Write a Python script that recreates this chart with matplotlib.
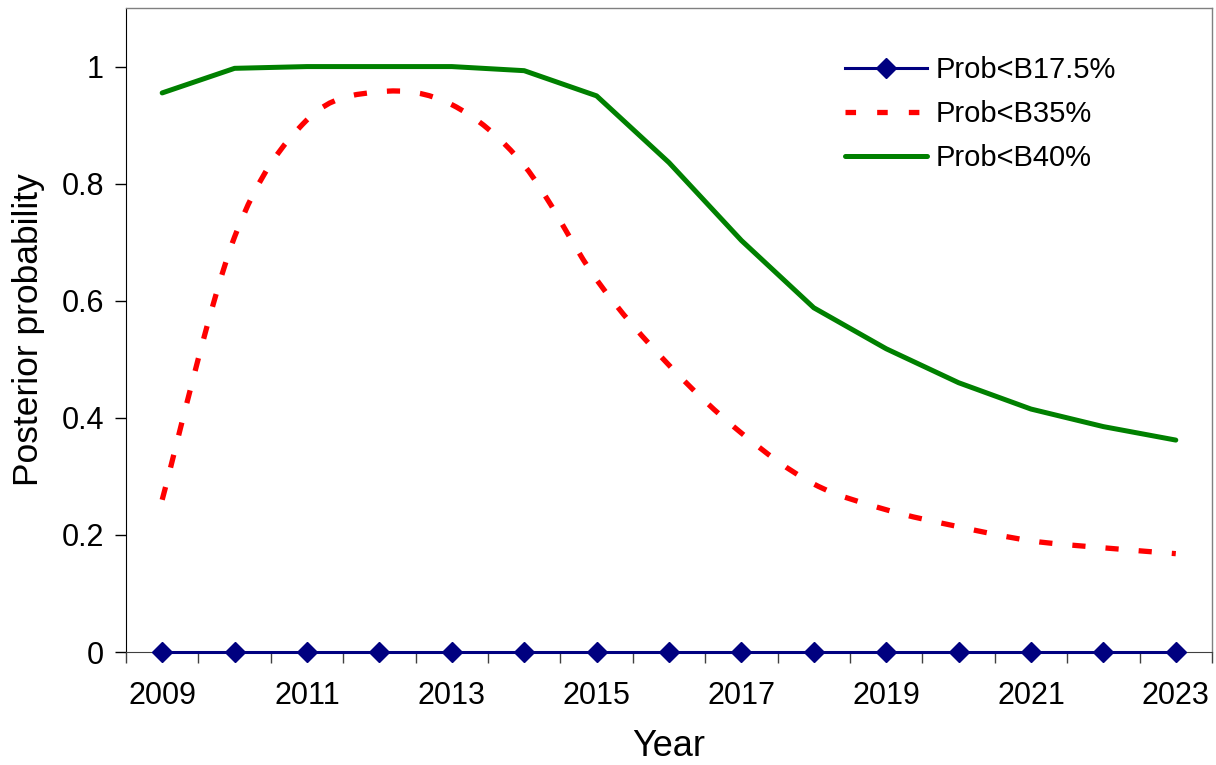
import numpy as np
import matplotlib.pyplot as plt
from matplotlib.path import Path
from matplotlib.patches import PathPatch
from matplotlib.lines import Line2D
from matplotlib.ticker import FuncFormatter

plt.rcParams['font.family'] = ['Liberation Sans', 'DejaVu Sans']

years = np.arange(2009, 2024)
prob_b175 = [0, 0, 0, 0, 0, 0, 0, 0, 0, 0, 0, 0, 0, 0, 0]
prob_b35 = [0.26, 0.709, 0.909, 0.957, 0.935, 0.831, 0.636, 0.49, 0.374,
            0.287, 0.243, 0.214, 0.19, 0.178, 0.168]
prob_b40 = [0.955, 0.997, 1.0, 1.0, 1.0, 0.993, 0.95, 0.836, 0.703,
            0.588, 0.518, 0.46, 0.415, 0.385, 0.362]
labels = ['Prob<B17.5%', 'Prob<B35%', 'Prob<B40%']


def smooth_path(x, y, tension=1 / 6):
    # Catmull-Rom style bezier through every data point
    x = np.asarray(x, float)
    y = np.asarray(y, float)
    verts = [(x[0], y[0])]
    codes = [Path.MOVETO]
    n = len(x)
    for i in range(n - 1):
        i0 = max(i - 1, 0)
        i3 = min(i + 2, n - 1)
        c1 = (x[i] + (x[i + 1] - x[i0]) * tension, y[i] + (y[i + 1] - y[i0]) * tension)
        c2 = (x[i + 1] - (x[i3] - x[i]) * tension, y[i + 1] - (y[i3] - y[i]) * tension)
        verts += [c1, c2, (x[i + 1], y[i + 1])]
        codes += [Path.CURVE4] * 3
    return Path(verts, codes)


fig = plt.figure(figsize=(12.16, 7.65), dpi=100)
ax = fig.add_axes([0.1036, 0.1477, 0.8931, 0.8418])

navy = '#000080'
red = '#ff0000'
green = '#008000'

ax.plot(years, prob_b40, color=green, lw=3.6, solid_capstyle='round',
        solid_joinstyle='round', zorder=3)
red_patch = PathPatch(smooth_path(years, prob_b35), facecolor='none', edgecolor=red,
                      lw=3.8, linestyle=(0, (2.5, 3.8)), capstyle='butt', zorder=3)
ax.add_patch(red_patch)
ax.plot(years, prob_b175, color=navy, lw=2.2, marker='D', markersize=10,
        markerfacecolor=navy, markeredgecolor=navy, zorder=4, clip_on=False)

ax.set_xlim(2008.5, 2023.5)
ax.set_ylim(0, 1.1)

ax.set_xticks(years[::2])
ax.set_xticks(np.arange(2008.5, 2024, 1), minor=True)
ax.tick_params(axis='x', which='major', length=0, labelsize=22, pad=21)
ax.tick_params(axis='x', which='minor', length=8, width=1, direction='out', color='#404040')
ax.set_yticks([0, 0.2, 0.4, 0.6, 0.8, 1.0])
ax.yaxis.set_major_formatter(FuncFormatter(lambda v, p: f'{v:g}'))
ax.tick_params(axis='y', length=8, width=1, direction='out', labelsize=22, pad=8)

for side in ['top', 'right']:
    ax.spines[side].set_color('#808080')
    ax.spines[side].set_linewidth(1)
ax.spines['left'].set_color('black')
ax.spines['bottom'].set_color('#404040')

ax.set_xlabel('Year', fontsize=26, labelpad=13)
ax.set_ylabel('Posterior probability', fontsize=25.5, labelpad=12)

handles = [
    Line2D([], [], color=navy, lw=2.2, marker='D', markersize=10),
    Line2D([], [], color=red, lw=3.8, linestyle=(0, (2.0, 4.0)), dash_capstyle='butt'),
    Line2D([], [], color=green, lw=3.6, solid_capstyle='round'),
]
ax.legend(handles, labels, loc='upper right', bbox_to_anchor=(0.936, 0.966),
          frameon=False, fontsize=21, handlelength=2.8, handletextpad=0.3,
          labelspacing=0.55)

fig.savefig('out.png', dpi=100)
